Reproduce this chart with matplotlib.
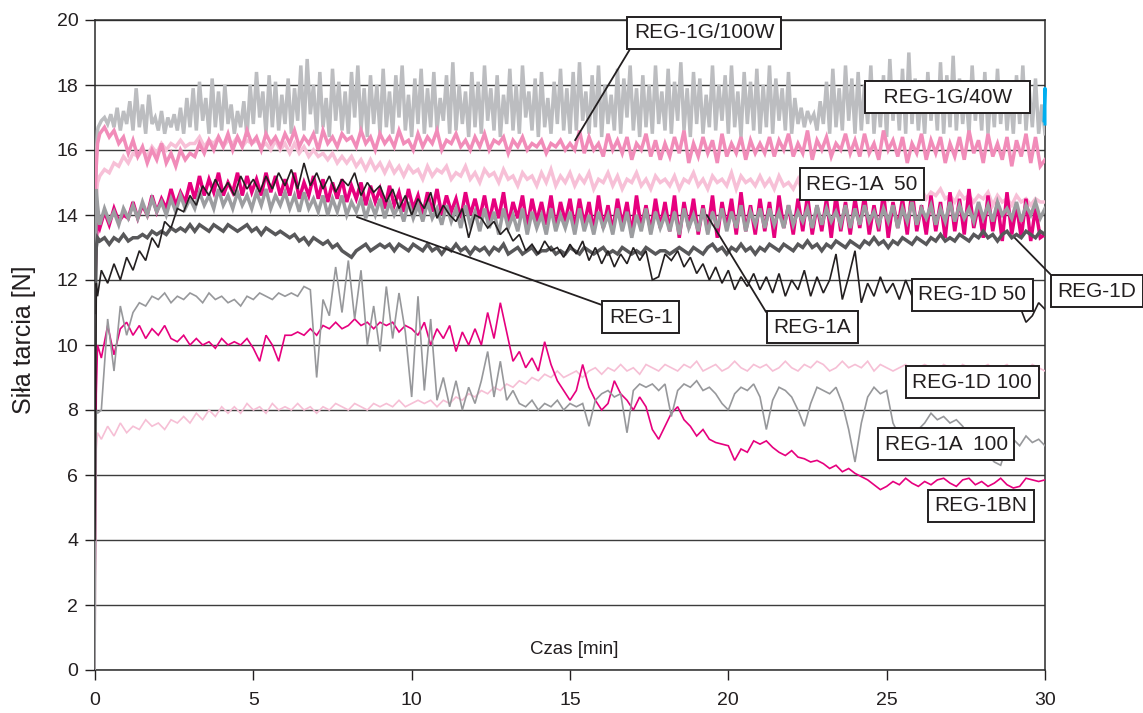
import numpy as np
import matplotlib
matplotlib.use("Agg")
import matplotlib.pyplot as plt

plt.rcParams['font.family'] = ['Liberation Sans', 'DejaVu Sans']

# sample times: three start-up points, then a regular grid
head_t = [0.0, 0.04, 0.08]
step_fast = 0.1     # REG-1G/100W, 300 samples
step_thick = 0.15   # other thick traces, 200 samples
step_thin = 0.2     # thin traces, 150 samples

# REG-1G/100W  (light grey, strongly oscillating)
g100_head = [13.5, 15.8, 16.6]
g100 = [
    16.7, 16.9, 17.0, 16.8, 17.1, 16.7, 17.3, 16.6, 17.2, 16.8, 17.5, 16.6, 17.9, 16.7, 17.4, 16.5, 17.7, 16.8, 17.0, 16.6, 17.2, 16.5, 17.0, 16.7, 17.1, 16.6, 17.3, 16.5, 17.6, 16.7,
    17.9, 16.6, 18.1, 16.9, 17.6, 16.5, 18.2, 16.7, 17.8, 16.6, 18.0, 16.8, 17.4, 16.5, 17.2, 16.7, 17.5, 16.4, 18.0, 16.8, 18.4, 17.0, 17.8, 16.5, 18.3, 16.7, 18.1, 16.6, 17.7, 16.8,
    18.2, 16.5, 17.9, 16.9, 18.6, 16.6, 18.8, 17.1, 18.0, 16.5, 18.4, 16.7, 17.6, 16.4, 18.5, 16.9, 18.1, 16.6, 17.8, 16.5, 18.4, 17.0, 18.6, 16.6, 17.9, 16.4, 18.3, 16.8, 18.0, 16.5,
    18.5, 16.7, 17.8, 16.5, 18.3, 17.0, 18.6, 16.6, 17.7, 16.4, 18.2, 16.8, 18.5, 16.5, 17.9, 16.7, 18.4, 16.6, 17.6, 16.9, 18.3, 16.5, 18.7, 16.6, 18.0, 16.8, 17.8, 16.4, 18.4, 16.7,
    18.1, 16.5, 18.6, 16.9, 17.9, 16.6, 18.3, 16.4, 17.7, 16.8, 18.5, 16.6, 18.0, 16.5, 18.6, 17.0, 17.8, 16.6, 18.2, 16.4, 18.4, 16.7, 17.6, 16.5, 18.1, 16.8, 18.5, 16.6, 17.9, 16.5,
    18.4, 16.6, 18.7, 16.9, 17.8, 16.5, 18.3, 16.7, 18.6, 16.4, 18.0, 16.8, 17.7, 16.6, 18.5, 16.5, 18.2, 17.0, 18.6, 16.6, 17.9, 16.4, 18.3, 16.7, 18.0, 16.5, 18.6, 16.8, 17.8, 16.6,
    18.5, 16.5, 18.1, 16.9, 18.7, 16.6, 17.9, 16.4, 18.4, 16.8, 18.2, 16.5, 17.7, 16.7, 18.6, 16.6, 18.0, 16.9, 18.3, 16.5, 18.6, 16.7, 17.8, 16.4, 18.4, 16.8, 18.1, 16.6, 18.5, 16.5,
    18.0, 16.7, 18.6, 16.5, 18.2, 16.9, 17.9, 16.6, 18.4, 16.5, 17.6, 16.8, 17.3, 16.7, 17.2, 16.9, 17.1, 16.6, 17.5, 16.8, 18.1, 16.5, 18.5, 16.7, 17.9, 16.6, 18.6, 16.9, 18.2, 16.5,
    18.4, 16.6, 18.0, 16.8, 18.6, 16.5, 17.9, 16.7, 18.3, 16.4, 18.8, 16.9, 18.1, 16.6, 18.5, 16.5, 19.0, 16.8, 18.2, 16.6, 17.8, 16.5, 18.4, 16.9, 18.0, 16.6, 18.7, 16.5, 18.3, 16.7,
    18.9, 16.6, 18.2, 16.8, 17.8, 16.5, 18.6, 16.9, 18.0, 16.6, 18.4, 16.5, 17.9, 16.7, 18.5, 16.8, 18.1, 16.6, 17.7, 16.5, 18.3, 16.8, 18.6, 16.6, 17.9, 16.7, 18.2, 16.5, 17.4, 16.5,
]

# REG-1G/40W  (pink)
g40_head = [14.5, 15.5, 16.2]
g40 = [
    16.5, 16.7, 16.4, 16.6, 16.2, 16.4, 15.9, 16.3, 15.8, 16.1, 15.6, 16.0, 15.7, 16.2, 15.6, 15.9, 15.5, 16.0, 15.7, 15.9,
    15.8, 16.2, 15.9, 16.3, 16.0, 16.4, 16.1, 16.5, 16.0, 16.4, 16.1, 16.6, 16.2, 16.4, 16.0, 16.5, 16.2, 16.4, 16.1, 16.5,
    16.2, 16.6, 16.1, 16.4, 16.2, 16.5, 16.0, 16.6, 16.2, 16.4, 16.1, 16.5, 16.3, 16.4, 16.1, 16.6, 16.2, 16.4, 16.0, 16.5,
    16.2, 16.4, 16.1, 16.6, 16.2, 16.3, 16.0, 16.5, 16.1, 16.4, 16.2, 16.6, 16.0, 16.3, 16.2, 16.5, 16.1, 16.3, 16.0, 16.4,
    16.1, 16.5, 16.0, 16.3, 16.2, 16.4, 15.9, 16.3, 16.1, 16.4, 16.0, 16.2, 16.1, 16.3, 15.9, 16.2, 16.1, 16.3, 16.0, 16.2,
    16.0, 16.6, 15.9, 16.4, 16.0, 16.2, 15.8, 16.5, 16.0, 16.3, 15.9, 16.4, 15.7, 16.2, 16.0, 16.5, 15.8, 16.3, 15.7, 16.2,
    15.8, 16.4, 15.9, 16.6, 15.6, 16.2, 15.8, 16.4, 15.9, 16.3, 15.6, 16.5, 15.8, 16.2, 15.9, 16.4, 15.7, 16.3, 15.9, 16.2,
    15.9, 16.4, 15.8, 16.3, 16.0, 16.5, 15.8, 16.2, 15.9, 16.6, 15.7, 16.3, 16.0, 16.4, 15.8, 16.2, 16.0, 16.5, 15.9, 16.3,
    15.8, 16.5, 15.9, 16.2, 15.7, 16.6, 16.0, 16.3, 15.8, 16.4, 15.6, 16.2, 15.9, 16.5, 15.7, 16.3, 15.9, 16.4, 15.6, 16.2,
    15.8, 16.4, 15.7, 16.6, 15.9, 16.3, 15.6, 16.5, 15.8, 16.2, 15.7, 16.4, 15.5, 16.3, 15.8, 16.5, 15.6, 16.4, 15.5, 15.7,
]

# REG-1A 50  (pale pink, thick)
a50_head = [13.0, 14.6, 15.0]
a50 = [
    15.2, 15.4, 15.3, 15.6, 15.5, 15.8, 15.6, 15.9, 15.8, 16.0, 15.8, 16.1, 15.9, 16.2, 16.0, 16.2, 16.1, 16.3, 16.1, 16.2,
    16.2, 16.4, 16.1, 16.3, 16.2, 16.4, 16.1, 16.3, 16.2, 16.4, 16.1, 16.3, 16.2, 16.3, 16.1, 16.2, 16.0, 16.3, 16.0, 16.2,
    15.9, 16.2, 15.9, 16.1, 15.8, 16.0, 15.8, 15.9, 15.7, 15.9, 15.6, 15.8, 15.6, 15.8, 15.5, 15.7, 15.4, 15.7, 15.4, 15.6,
    15.3, 15.6, 15.3, 15.5, 15.2, 15.5, 15.3, 15.4, 15.1, 15.5, 15.2, 15.4, 15.3, 15.5, 15.1, 15.3, 15.2, 15.5, 15.1, 15.3,
    15.0, 15.4, 15.2, 15.3, 15.0, 15.4, 15.1, 15.2, 14.9, 15.3, 15.1, 15.2, 14.9, 15.3, 15.0, 15.4, 14.9, 15.2, 15.0, 15.3,
    14.9, 15.2, 15.0, 15.3, 14.8, 15.1, 15.0, 15.3, 14.9, 15.2, 14.8, 15.1, 15.0, 15.3, 14.9, 15.1, 14.8, 15.2, 15.0, 15.1,
    14.9, 15.2, 14.8, 15.1, 15.0, 15.3, 14.9, 15.1, 14.8, 15.2, 15.0, 15.1, 14.9, 15.3, 14.8, 15.2, 15.0, 15.1, 14.9, 15.2,
    14.9, 15.1, 14.8, 15.2, 14.9, 15.0, 14.8, 15.1, 14.7, 15.0, 14.8, 15.1, 14.7, 14.9, 14.8, 15.0, 14.7, 14.9, 14.6, 14.9,
    14.7, 14.9, 14.6, 14.8, 14.7, 14.9, 14.5, 14.8, 14.6, 14.8, 14.5, 14.7, 14.6, 14.8, 14.5, 14.7, 14.6, 14.8, 14.5, 14.6,
    14.4, 14.7, 14.5, 14.6, 14.4, 14.6, 14.5, 14.7, 14.3, 14.6, 14.4, 14.5, 14.3, 14.6, 14.4, 14.5, 14.3, 14.5, 14.4, 14.4,
]

# magenta, thick
mag_head = [12.0, 13.2, 13.8]
mag = [
    13.6, 14.1, 13.7, 14.2, 13.8, 14.0, 13.9, 14.4, 13.9, 14.3, 14.0, 14.6, 14.1, 14.5, 14.2, 14.8, 14.3, 14.7, 14.4, 15.0,
    14.5, 15.2, 14.6, 15.1, 14.7, 15.3, 14.6, 15.0, 14.7, 15.3, 14.6, 15.2, 14.7, 15.1, 14.6, 15.3, 14.7, 15.2, 14.6, 15.1,
    14.6, 15.3, 14.5, 15.0, 14.6, 15.2, 14.5, 15.1, 14.4, 15.0, 14.5, 15.1, 14.4, 14.9, 14.5, 15.0, 14.3, 14.9, 14.4, 14.8,
    14.2, 14.9, 14.3, 14.7, 14.1, 14.8, 14.2, 14.6, 14.0, 14.7, 14.1, 14.8, 14.0, 14.6, 14.1, 14.5, 13.9, 14.7, 14.0, 14.5,
    13.9, 14.6, 13.8, 14.5, 13.9, 14.7, 13.7, 14.4, 13.9, 14.6, 13.6, 14.5, 13.8, 14.4, 13.7, 14.6, 13.6, 14.4, 13.8, 14.5,
    13.6, 14.5, 13.7, 14.4, 13.5, 14.6, 13.6, 14.3, 13.5, 14.5, 13.7, 14.4, 13.4, 14.6, 13.6, 14.3, 13.5, 14.5, 13.6, 14.4,
    13.5, 14.6, 13.3, 14.4, 13.6, 14.5, 13.4, 14.3, 13.5, 14.6, 13.3, 14.4, 13.6, 14.5, 13.4, 14.7, 13.5, 14.3, 13.4, 14.5,
    13.5, 14.4, 13.3, 14.6, 13.6, 14.3, 13.4, 14.5, 13.5, 14.6, 13.4, 14.3, 13.5, 14.5, 13.3, 14.6, 13.5, 14.4, 13.4, 14.5,
    13.6, 14.6, 13.4, 14.3, 13.5, 14.7, 13.3, 14.4, 13.6, 14.5, 13.4, 14.8, 13.5, 14.3, 13.4, 14.6, 13.5, 14.4, 13.3, 14.7,
    13.5, 14.5, 13.4, 14.8, 13.6, 14.3, 13.3, 14.6, 13.5, 14.4, 13.2, 14.7, 13.4, 14.3, 13.3, 14.5, 13.2, 14.2, 13.3, 13.4,
]

# medium grey, thick
mgr_head = [10.0, 14.8, 14.3]
mgr = [
    13.7, 14.2, 13.8, 14.1, 13.7, 14.2, 13.9, 14.3, 13.9, 14.4, 14.0, 14.5, 14.1, 14.4, 14.0, 14.5, 14.1, 14.6, 14.2, 14.5,
    14.2, 14.7, 14.3, 14.6, 14.2, 14.8, 14.3, 14.6, 14.2, 14.7, 14.3, 14.6, 14.2, 14.7, 14.3, 14.8, 14.2, 14.6, 14.3, 14.7,
    14.2, 14.6, 14.1, 14.7, 14.2, 14.5, 14.1, 14.6, 14.0, 14.5, 14.1, 14.6, 14.0, 14.4, 14.1, 14.5, 13.9, 14.4, 14.0, 14.5,
    13.9, 14.4, 14.0, 14.3, 13.8, 14.4, 13.9, 14.3, 13.8, 14.4, 13.9, 14.2, 13.7, 14.3, 13.8, 14.2, 13.6, 14.3, 13.7, 14.1,
    13.5, 14.2, 13.6, 14.1, 13.4, 14.2, 13.6, 14.0, 13.5, 14.2, 13.4, 14.1, 13.6, 14.0, 13.4, 14.2, 13.5, 14.0, 13.6, 14.1,
    13.4, 14.2, 13.5, 14.0, 13.4, 14.1, 13.6, 14.0, 13.4, 14.2, 13.5, 14.1, 13.3, 14.0, 13.5, 14.2, 13.4, 14.1, 13.6, 14.0,
    13.5, 14.1, 13.4, 14.2, 13.6, 14.0, 13.5, 14.2, 13.4, 14.1, 13.6, 14.2, 13.5, 14.1, 13.6, 14.3, 13.5, 14.1, 13.7, 14.2,
    13.6, 14.2, 13.7, 14.1, 13.6, 14.3, 13.7, 14.1, 13.8, 14.2, 13.6, 14.3, 13.7, 14.2, 13.8, 14.1, 13.7, 14.3, 13.6, 14.2,
    13.7, 14.3, 13.8, 14.1, 13.7, 14.2, 13.8, 14.3, 13.6, 14.2, 13.8, 14.4, 13.7, 14.2, 13.9, 14.3, 13.7, 14.2, 13.8, 14.4,
    13.8, 14.3, 13.9, 14.2, 13.8, 14.4, 13.9, 14.3, 13.8, 14.4, 14.0, 14.2, 13.9, 14.4, 13.8, 14.3, 14.0, 14.4, 13.9, 14.2,
]

# REG-1D  (dark grey, thick)
d_head = [11.0, 13.0, 13.3]
d = [
    13.2, 13.3, 13.1, 13.3, 13.2, 13.4, 13.2, 13.3, 13.3, 13.4, 13.3, 13.5, 13.4, 13.5, 13.4, 13.6, 13.5, 13.6, 13.5, 13.7,
    13.5, 13.7, 13.6, 13.5, 13.7, 13.6, 13.5, 13.7, 13.6, 13.5, 13.6, 13.7, 13.5, 13.6, 13.4, 13.6, 13.5, 13.4, 13.5, 13.4,
    13.3, 13.4, 13.2, 13.3, 13.1, 13.3, 13.2, 13.1, 13.2, 13.0, 13.1, 12.9, 12.8, 12.7, 12.9, 13.0, 13.1, 12.9, 13.0, 13.1,
    13.0, 13.1, 12.9, 13.1, 13.0, 12.9, 13.1, 13.0, 12.9, 13.1, 12.9, 13.0, 12.8, 13.0, 12.9, 13.1, 12.9, 13.0, 12.8, 13.0,
    12.9, 13.0, 12.8, 13.0, 12.9, 13.1, 12.8, 12.9, 13.0, 12.8, 12.9, 13.0, 12.8, 12.9, 12.9, 13.0, 12.8, 12.9, 12.8, 13.0,
    12.9, 12.8, 13.0, 12.9, 12.8, 12.9, 13.0, 12.8, 12.9, 12.8, 13.0, 12.9, 12.8, 12.9, 12.8, 13.0, 12.9, 12.8, 12.9, 12.9,
    12.8, 12.9, 13.0, 12.9, 12.8, 13.0, 12.9, 12.8, 13.0, 13.1, 12.9, 13.0, 12.8, 13.0, 12.9, 13.1, 12.9, 13.0, 12.8, 13.0,
    12.9, 13.1, 13.0, 12.9, 13.1, 13.0, 12.9, 13.1, 13.0, 13.2, 13.0, 13.1, 12.9, 13.1, 13.0, 13.2, 13.1, 13.0, 13.2, 13.1,
    13.0, 13.2, 13.1, 13.3, 13.1, 13.2, 13.0, 13.2, 13.1, 13.3, 13.2, 13.1, 13.3, 13.2, 13.1, 13.3, 13.2, 13.4, 13.2, 13.3,
    13.2, 13.4, 13.3, 13.2, 13.4, 13.3, 13.5, 13.3, 13.4, 13.2, 13.4, 13.5, 13.3, 13.4, 13.3, 13.5, 13.4, 13.3, 13.5, 13.4,
]

# black, thin
blk_head = [4.0, 11.9, 11.5]
blk = [
    12.3, 11.9, 12.5, 12.0, 12.7, 12.3, 12.9, 12.6, 13.3, 13.0, 13.8, 13.6, 14.2, 14.1, 14.6,
    14.3, 14.9, 14.6, 15.1, 14.7, 15.0, 14.6, 15.2, 14.8, 15.1, 14.7, 15.2, 14.8, 15.3, 14.9,
    15.4, 14.8, 15.6, 14.9, 15.3, 14.8, 15.2, 14.7, 15.1, 14.9, 15.3, 14.6, 15.0, 14.7, 14.9,
    14.4, 14.8, 14.2, 14.6, 14.0, 14.5, 14.2, 14.7, 13.9, 14.3, 14.0, 13.8, 14.2, 13.3, 14.0,
    13.9, 13.6, 13.8, 13.4, 13.6, 13.2, 13.4, 12.9, 13.1, 12.8, 13.2, 12.9, 13.0, 12.7, 13.1,
    12.8, 13.2, 12.6, 13.0, 12.5, 12.9, 12.4, 12.8, 12.5, 13.0, 12.6, 12.9, 12.0, 12.1, 12.8,
    12.6, 12.9, 12.4, 12.7, 12.2, 12.5, 12.0, 12.4, 11.9, 12.3, 11.7, 12.1, 11.8, 12.2, 11.7,
    12.1, 11.6, 12.2, 11.5, 12.0, 11.7, 12.3, 11.5, 12.1, 11.6, 12.0, 12.8, 11.4, 12.1, 12.9,
    11.3, 11.9, 11.5, 12.1, 11.6, 11.9, 11.4, 12.0, 11.5, 11.8, 11.6, 12.0, 11.5, 11.8, 11.6,
    11.9, 11.5, 11.8, 11.4, 11.7, 11.5, 11.8, 11.4, 11.6, 11.3, 11.2, 10.7, 10.9, 11.3, 11.1,
]

# REG-1A 100  (grey, thin)
a100_head = [0.0, 8.0, 7.9]
a100 = [
    8.0, 10.8, 9.2, 11.2, 10.3, 11.0, 11.3, 11.2, 11.5, 11.4, 11.6, 11.3, 11.5, 11.4, 11.6,
    11.5, 11.3, 11.6, 11.4, 11.5, 11.3, 11.4, 11.2, 11.5, 11.4, 11.6, 11.5, 11.4, 11.6, 11.5,
    11.6, 11.5, 11.8, 11.7, 9.0, 11.4, 10.9, 12.4, 11.0, 12.6, 10.8, 12.3, 10.0, 11.2, 9.8,
    11.8, 10.2, 11.6, 10.4, 8.4, 11.5, 8.6, 10.8, 8.3, 9.0, 8.1, 8.9, 8.0, 8.7, 8.2,
    8.9, 9.8, 8.4, 9.5, 8.3, 8.6, 8.2, 8.1, 8.3, 8.0, 8.2, 8.1, 8.3, 8.0, 8.2,
    8.1, 8.2, 7.5, 8.3, 8.5, 8.6, 8.4, 8.5, 7.3, 8.6, 8.8, 8.7, 8.8, 8.6, 8.8,
    7.8, 8.6, 8.8, 8.7, 8.9, 8.6, 8.7, 8.5, 8.2, 8.0, 8.5, 8.7, 8.6, 8.8, 8.4,
    7.4, 8.3, 8.7, 8.6, 8.4, 8.0, 7.5, 8.2, 8.7, 8.6, 8.5, 8.7, 8.2, 7.4, 6.4,
    7.6, 8.4, 8.7, 8.5, 8.6, 7.6, 7.2, 7.0, 7.2, 7.4, 7.6, 7.9, 7.7, 7.8, 7.6,
    7.7, 7.5, 7.2, 7.0, 6.8, 6.6, 6.4, 6.3, 6.9, 7.1, 6.9, 7.2, 7.0, 7.1, 6.9,
]

# REG-1BN  (magenta, thin)
bn_head = [2.0, 8.5, 10.0]
bn = [
    9.6, 10.6, 9.7, 10.5, 10.7, 10.3, 10.6, 10.2, 10.5, 10.3, 10.6, 10.2, 10.1, 10.3, 10.0,
    10.2, 10.0, 10.1, 9.9, 10.2, 10.0, 10.1, 10.0, 10.2, 9.9, 9.5, 10.3, 10.0, 9.5, 10.3,
    10.3, 10.4, 10.3, 10.5, 10.3, 10.6, 10.5, 10.7, 10.5, 10.6, 10.8, 10.6, 10.7, 10.5, 10.7,
    10.6, 10.7, 10.4, 10.6, 10.5, 10.3, 10.7, 10.0, 10.5, 10.2, 10.6, 9.8, 10.4, 10.0, 10.5,
    10.0, 11.0, 10.2, 11.3, 10.4, 9.5, 9.8, 9.3, 9.6, 9.2, 10.1, 9.4, 8.9, 8.6, 8.3,
    8.6, 9.4, 8.7, 8.3, 8.0, 8.2, 8.9, 8.5, 8.3, 8.0, 8.4, 8.1, 7.4, 7.1, 7.5,
    7.9, 8.1, 7.7, 7.5, 7.2, 7.4, 7.1, 7.0, 6.95, 6.9, 6.45, 6.8, 6.7, 7.05, 6.95,
    7.05, 6.85, 6.7, 6.6, 6.75, 6.55, 6.5, 6.4, 6.45, 6.35, 6.2, 6.3, 6.1, 6.2, 6.05,
    5.95, 5.85, 5.7, 5.55, 5.65, 5.8, 5.7, 5.9, 5.75, 5.65, 5.8, 5.7, 5.85, 5.9, 5.75,
    5.65, 5.85, 5.9, 5.7, 5.8, 5.65, 5.75, 5.9, 5.7, 5.6, 5.65, 5.9, 5.85, 5.8, 5.85,
]

# REG-1D 100  (pale pink, thin)
d100_head = [0.0, 6.8, 7.3]
d100 = [
    7.1, 7.5, 7.2, 7.6, 7.3, 7.5, 7.4, 7.7, 7.5, 7.6, 7.4, 7.7, 7.6, 7.8, 7.6,
    7.9, 7.7, 8.0, 7.8, 8.1, 7.9, 8.1, 7.9, 8.2, 8.0, 8.1, 7.9, 8.2, 8.0, 8.1,
    8.0, 8.2, 8.0, 8.1, 7.9, 8.1, 8.0, 8.2, 8.1, 8.0, 8.2, 8.1, 8.0, 8.2, 8.1,
    8.2, 8.1, 8.3, 8.1, 8.2, 8.3, 8.2, 8.3, 8.1, 8.3, 8.2, 8.4, 8.3, 8.5, 8.4,
    8.6, 8.5, 8.7, 8.6, 8.8, 8.7, 8.9, 8.8, 9.0, 8.9, 9.1, 9.0, 9.2, 9.0, 9.1,
    9.2, 9.0, 9.2, 9.3, 9.1, 9.3, 9.2, 9.4, 9.2, 9.3, 9.1, 9.4, 9.3, 9.2, 9.4,
    9.3, 9.2, 9.4, 9.3, 9.5, 9.2, 9.3, 9.4, 9.2, 9.3, 9.5, 9.3, 9.2, 9.4, 9.3,
    9.4, 9.2, 9.3, 9.5, 9.3, 9.2, 9.4, 9.3, 9.5, 9.4, 9.2, 9.3, 9.5, 9.3, 9.4,
    9.3, 9.5, 9.2, 9.4, 9.3, 9.2, 9.3, 9.4, 9.2, 9.3, 9.4, 9.3, 9.2, 9.4, 9.3,
    9.2, 9.4, 9.3, 9.2, 9.3, 9.4, 9.2, 9.3, 9.4, 9.2, 9.3, 9.2, 9.4, 9.3, 9.2,
]

# short trace at the very end of the run
tail_t = [29.97, 30.0, 30.0]
tail = [16.9, 17.9, 16.8]


def trace(head, body, step):
    t = np.concatenate([head_t, step * np.arange(1, len(body) + 1)])
    return t, np.concatenate([head, body])


fig = plt.figure(figsize=(11.43, 7.13), dpi=100)
ax = fig.add_axes([95 / 1143, 43 / 713, 950 / 1143, 650 / 713])

thick = 2.5
thin = 1.2
layers = [
    (g100_head, g100, step_fast, '#bcbdc0', thick),
    (a50_head, a50, step_thick, '#f7c0d7', thick),
    (g40_head, g40, step_thick, '#f18cb9', thick),
    (mag_head, mag, step_thick, '#e6007e', thick),
    (mgr_head, mgr, step_thick, '#9c9da0', thick),
    (d_head, d, step_thick, '#58585a', thick),
    (d100_head, d100, step_thin, '#f6bfd5', thin),
    (bn_head, bn, step_thin, '#e6007e', thin),
    (a100_head, a100, step_thin, '#97989b', thin),
    (blk_head, blk, step_thin, '#231f20', thin),
]
for head, body, step, color, lw in layers:
    t, y = trace(head, body, step)
    ax.plot(t, y, color=color, lw=lw, solid_joinstyle='miter', zorder=3)
ax.plot(tail_t, tail, color='#00aeef', lw=2.2, zorder=3, clip_on=False)

ax.set_xlim(0, 30)
ax.set_ylim(0, 20)
ax.set_xticks(range(0, 31, 5))
ax.set_yticks(range(0, 21, 2))
ax.yaxis.grid(True, color='#3c3c3c', lw=1.0, zorder=1)
ax.set_axisbelow(True)
for side in ['left', 'right', 'bottom', 'top']:
    ax.spines[side].set_color('#2a2a2a')
    ax.spines[side].set_linewidth(1.1)
ax.tick_params(axis='y', direction='out', length=7, width=1, pad=5,
               labelsize=14, colors='#231f20')
ax.tick_params(axis='x', direction='out', length=7, width=1, pad=9,
               labelsize=14, colors='#231f20')

ax.text(0.505, 0.031, 'Czas [min]', transform=ax.transAxes, ha='center',
        va='center', fontsize=13.5, color='#231f20')
fig.text(24 / 1143, 1 - 340 / 713, 'Siła tarcia [N]', rotation=90,
         ha='center', va='center', fontsize=18, color='#231f20')

# boxed series names, some with leader lines
box = dict(boxstyle='square,pad=0.32', fc='white', ec='#231f20', lw=1.4)
labels = [
    ('REG-1G/100W', (19.24, 19.6), (15.16, 16.3), (0, 0)),
    ('  REG-1G/40W  ', (26.93, 17.63), None, None),
    ('REG-1A  50', (24.22, 14.95), None, None),
    ('REG-1', (17.24, 10.86), (8.27, 13.94), (0, 1)),
    ('REG-1A', (22.65, 10.55), (19.32, 14.0), (0, 0.66)),
    ('REG-1D 50', (27.7, 11.54), None, None),
    ('REG-1D', (31.64, 11.66), (29.05, 13.29), (0, 1)),
    ('REG-1D 100', (27.7, 8.86), None, None),
    ('REG-1A  100', (26.88, 6.95), None, None),
    ('REG-1BN', (27.97, 5.05), None, None),
]
for text, pos, target, rel in labels:
    if target is None:
        ax.text(pos[0], pos[1], text, ha='center', va='center', fontsize=15,
                color='#231f20', bbox=box, zorder=6, clip_on=False)
    else:
        ax.annotate(text, xy=target, xytext=pos, ha='center', va='center',
                    fontsize=15, color='#231f20', bbox=box, zorder=6,
                    annotation_clip=False,
                    arrowprops=dict(arrowstyle='-', color='#231f20', lw=1.3,
                                    shrinkA=0, shrinkB=0, relpos=rel))

fig.savefig('out.png', dpi=100)
